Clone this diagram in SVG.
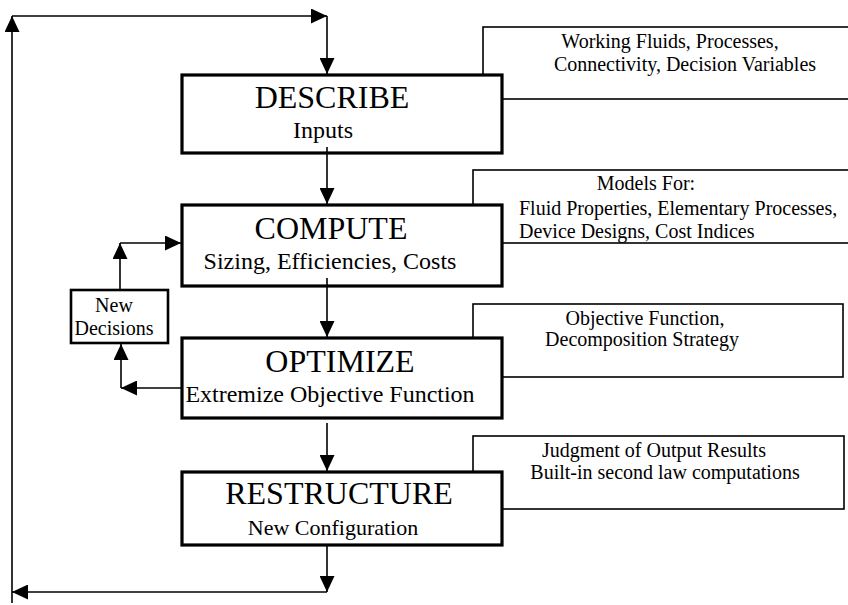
<svg xmlns="http://www.w3.org/2000/svg" width="848" height="605" viewBox="0 0 848 605">
  <style>
    text { font-family: "Liberation Serif", "Times New Roman", serif; fill: #000; }
    .title { font-size: 32px; text-anchor: middle; }
    .sub { font-size: 24px; text-anchor: middle; }
    .note { font-size: 20px; }
    .mid { text-anchor: middle; }
    .main { fill: #fff; stroke: #000; stroke-width: 3.2; }
    .info { fill: #fff; stroke: #000; stroke-width: 1.6; }
    .small { fill: #fff; stroke: #000; stroke-width: 2.6; }
    .wire { fill: none; stroke: #000; stroke-width: 1.6; }
  </style>
  <defs>
    <marker id="arrow" markerUnits="userSpaceOnUse" markerWidth="16" markerHeight="15" refX="16" refY="7.5" orient="auto">
      <path d="M0,0 L16,7.5 L0,15 Z" fill="#000"/>
    </marker>
  </defs>
  <rect width="848" height="605" fill="#fff"/>

  <!-- annotation boxes sit behind the stage boxes -->
  <g id="describe-notes">
    <rect class="info" x="483" y="27" width="380" height="72"/>
    <text class="note mid" x="670" y="48">Working Fluids, Processes,</text>
    <text class="note mid" x="685" y="71">Connectivity, Decision Variables</text>
  </g>
  <g id="compute-notes">
    <rect class="info" x="473" y="170" width="390" height="73"/>
    <text class="note mid" x="646" y="190">Models For:</text>
    <text class="note" x="519" y="215">Fluid Properties, Elementary Processes,</text>
    <text class="note" x="519" y="238">Device Designs, Cost Indices</text>
  </g>
  <g id="optimize-notes">
    <rect class="info" x="473" y="304" width="370" height="73"/>
    <text class="note mid" x="645" y="325">Objective Function,</text>
    <text class="note mid" x="642" y="346">Decomposition Strategy</text>
  </g>
  <g id="restructure-notes">
    <rect class="info" x="473" y="436" width="371" height="73"/>
    <text class="note mid" x="654" y="457">Judgment of Output Results</text>
    <text class="note mid" x="665" y="479">Built-in second law computations</text>
  </g>

  <!-- stage boxes -->
  <g id="describe">
    <rect class="main" x="182" y="75" width="320" height="78"/>
    <text class="title" x="332" y="108">DESCRIBE</text>
    <text class="sub" x="323" y="138">Inputs</text>
  </g>
  <g id="compute">
    <rect class="main" x="182" y="205" width="320" height="81"/>
    <text class="title" x="331" y="239">COMPUTE</text>
    <text class="sub" x="330" y="269">Sizing, Efficiencies, Costs</text>
  </g>
  <g id="optimize">
    <rect class="main" x="182" y="338" width="320" height="80"/>
    <text class="title" x="340" y="372">OPTIMIZE</text>
    <text class="sub" x="330" y="402">Extremize Objective Function</text>
  </g>
  <g id="restructure">
    <rect class="main" x="182" y="472" width="320" height="73"/>
    <text class="title" x="339" y="504">RESTRUCTURE</text>
    <text class="sub" x="333" y="535" style="font-size:22px">New Configuration</text>
  </g>
  <g id="new-decisions">
    <rect class="small" x="71" y="290" width="97" height="53"/>
    <text class="note mid" x="114" y="312">New</text>
    <text class="note mid" x="114" y="335">Decisions</text>
  </g>

  <!-- connectors, drawn last so the downward stems start just under each subtitle -->
  <g id="connectors">
    <path class="wire" d="M12,603 L12,16" marker-end="url(#arrow)"/>
    <path class="wire" d="M12,16 L327,16" marker-end="url(#arrow)"/>
    <path class="wire" d="M327,16 L327,74" marker-end="url(#arrow)"/>
    <path class="wire" d="M327,147 L327,204" marker-end="url(#arrow)"/>
    <path class="wire" d="M327,278 L327,337" marker-end="url(#arrow)"/>
    <path class="wire" d="M327,423 L327,471" marker-end="url(#arrow)"/>
    <path class="wire" d="M327,546 L327,592" marker-end="url(#arrow)"/>
    <path class="wire" d="M327,592 L12,592" marker-end="url(#arrow)"/>
    <path class="wire" d="M120,289 L120,243" marker-end="url(#arrow)"/>
    <path class="wire" d="M120,243 L181,243" marker-end="url(#arrow)"/>
    <path class="wire" d="M181,388 L121,388" marker-end="url(#arrow)"/>
    <path class="wire" d="M121,388 L121,344" marker-end="url(#arrow)"/>
  </g>
</svg>
